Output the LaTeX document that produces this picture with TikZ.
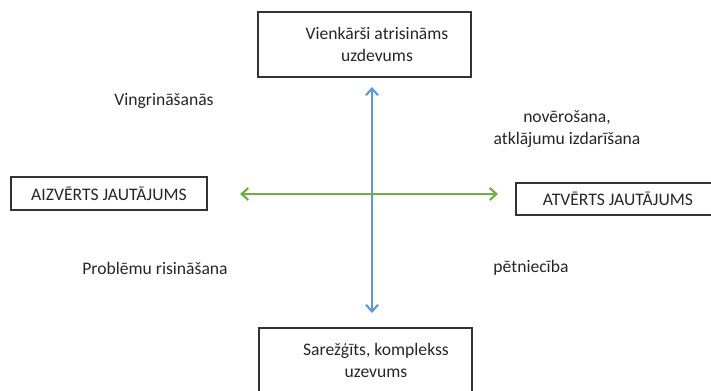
\documentclass[tikz,border=0pt]{standalone}
\usepackage{fontspec}
\setmainfont{Carlito}
\usetikzlibrary{arrows.meta}
\begin{document}
\begin{tikzpicture}[x=0.75pt,y=-0.75pt,
  box/.style={draw=black!80,line width=1.1pt,inner sep=0pt},
  txt/.style={font=\fontsize{13.2}{16.5}\selectfont,text=black!85,align=center},
  blu/.style={draw={rgb,255:red,91;green,155;blue,213},line width=1.6pt,{Straight Barb[length=5pt,width=9pt]}-{Straight Barb[length=5pt,width=9pt]}},
  grn/.style={draw={rgb,255:red,112;green,173;blue,71},line width=1.6pt,{Straight Barb[length=5pt,width=9pt]}-{Straight Barb[length=5pt,width=9pt]}}]
\useasboundingbox (0,0) rectangle (711,391);
\clip (0,0) rectangle (711,391);
\draw[box] (258,12) rectangle (471,77);
\node[txt] (top) at (377,44) {Vienkārši atrisināms\\uzdevums};
\draw[box] (259,328) rectangle (472,400);
\node[txt] (bot) at (376,360) {Sarežģīts, komplekss\\uzevums};
\draw[box] (11,177) rectangle (207,210);
\node[txt] (left) at (109,193.5) {AIZVĒRTS JAUTĀJUMS};
\draw[box] (516,183) rectangle (712,215);
\node[txt] (right) at (618,199) {ATVĒRTS JAUTĀJUMS};
\coordinate (vt) at (372,87);
\coordinate (vb) at (372,313);
\coordinate (hl) at (240,194);
\coordinate (hr) at (498,194);
\draw[blu] (vt) -- (vb);
\draw[grn] (hl) -- (hr);
\node[txt] (l1) at (164,101) {Vingrināšanās};
\node[txt] (l2) at (567,129) {novērošana,\\atklājumu izdarīšana};
\node[txt] (l3) at (155,268) {Problēmu risināšana};
\node[txt] (l4) at (531,268) {pētniecība};
\end{tikzpicture}
\end{document}
